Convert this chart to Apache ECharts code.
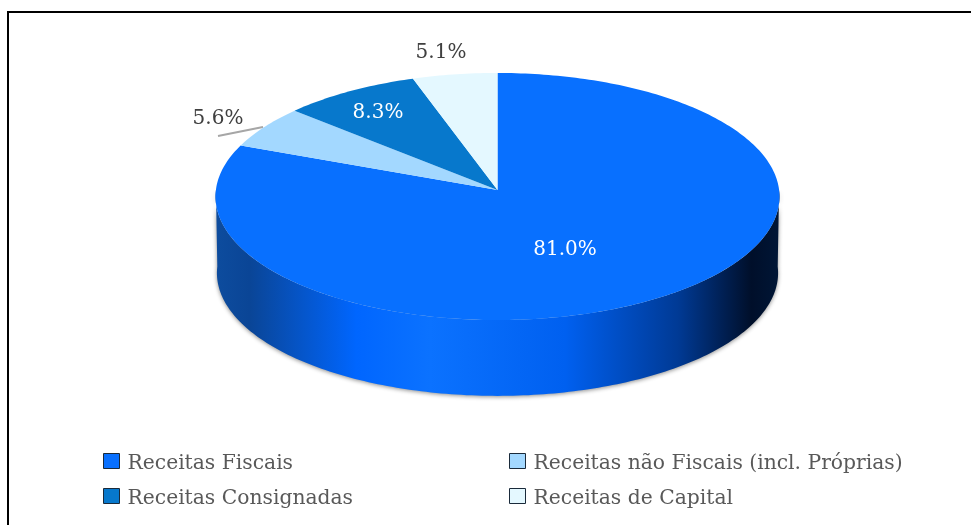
<!DOCTYPE html>
<html>
<head>
<meta charset="utf-8">
<title>Receitas</title>
<script src="https://cdn.jsdelivr.net/npm/echarts@6/dist/echarts.min.js"></script>
<style>
html, body { margin: 0; padding: 0; background: #fff; }
#main { width: 971px; height: 525px; }
</style>
</head>
<body>
<div id="main"></div>
<script>
var categories = ['Receitas Fiscais', 'Receitas não Fiscais (incl. Próprias)', 'Receitas Consignadas', 'Receitas de Capital'];
var values = [81.0, 5.6, 8.3, 5.1];
var colors = ['#0870ff', '#a3d8ff', '#0778cc', '#e4f8ff'];
var labelColors = ['#ffffff', '#404040', '#ffffff', '#404040'];
var labelAnchors = [[565, 250], [218, 119], [378, 113], [441, 53]];

var FONT = '"DejaVu Serif", serif';
// tilted disc: centre, radii, perspective factor
var CX = 497.5, CY = 190, RX = 281.6, RY = 123.2, K = 0.0526, DEPTH = 76.5;

function project(deg, lift, scale) {
	var a = deg * Math.PI / 180;
	var u = Math.sin(a), v = -Math.cos(a);
	var d = 1 - K * v;
	return [CX + RX * scale * u / d, CY + lift + RY * scale * v / d];
}
function arc(from, to, lift, scale) {
	var pts = [];
	var n = Math.max(2, Math.ceil(Math.abs(to - from)));
	for (var i = 0; i <= n; i++) {
		pts.push(project(from + (to - from) * i / n, lift, scale));
	}
	return pts;
}

var total = values.reduce(function(s, v) { return s + v; }, 0);
var starts = [];
var acc = 0;
for (var i = 0; i < values.length; i++) {
	starts.push(acc / total * 360);
	acc += values[i];
}

function renderSlice(idx) {
	return function(params, api) {
		var from = starts[idx];
		var to = from + api.value(0) / total * 360;
		var children = [];
		// the front wall only shows under the part of a slice facing the viewer
		var wa = Math.max(from, 90), wb = Math.min(to, 270);
		if (wb > wa) {
			var wall = arc(wa, wb, 0, 1).concat(arc(wb, wa, DEPTH, 0.995));
			children.push({
				type: 'polygon',
				shape: { points: wall },
				style: {
					fill: new echarts.graphic.LinearGradient(0, 0, 1, 0, [
						{ offset: 0, color: '#0d4c9e' },
						{ offset: 0.06, color: '#0a4596' },
						{ offset: 0.25, color: '#0066ff' },
						{ offset: 0.38, color: '#0b72ff' },
						{ offset: 0.62, color: '#0060f0' },
						{ offset: 0.82, color: '#003a95' },
						{ offset: 0.95, color: '#000f2a' },
						{ offset: 1, color: '#001636' }
					]),
					shadowBlur: 4,
					shadowOffsetY: 1,
					shadowColor: 'rgba(0,0,0,0.45)'
				}
			});
		}
		children.push({
			type: 'polygon',
			shape: { points: [[CX, CY]].concat(arc(from, to, 0, 1)) },
			style: { fill: colors[idx] }
		});
		children.push({
			type: 'text',
			z2: 10,
			style: {
				x: labelAnchors[idx][0],
				y: labelAnchors[idx][1],
				text: api.value(0).toFixed(1) + '%',
				fill: labelColors[idx],
				font: '20px ' + FONT,
				align: 'center',
				verticalAlign: 'middle'
			}
		});
		return { type: 'group', children: children };
	};
}

var series = categories.map(function(name, i) {
	return {
		name: name,
		type: 'custom',
		coordinateSystem: 'none',
		silent: true,
		itemStyle: { color: colors[i] },
		renderItem: renderSlice(i),
		data: [[values[i]]]
	};
});

function legendCol(left, names) {
	return {
		left: left,
		top: 448,
		orient: 'vertical',
		itemWidth: 16,
		itemHeight: 15,
		itemGap: 14.5,
		icon: 'rect',
		selectedMode: false,
		itemStyle: { borderColor: '#1a2a3a', borderWidth: 1 },
		formatter: function(name) { return '{t|' + name + '}'; },
		textStyle: {
			rich: { t: { fontFamily: FONT, fontSize: 20.3, color: '#595959', padding: [5, 0, 0, 3] } }
		},
		data: names
	};
}

var myChart = echarts.init(document.getElementById('main'));
myChart.setOption({
	backgroundColor: '#ffffff',
	animation: false,
	legend: [
		legendCol(98, [categories[0], categories[2]]),
		legendCol(504, [categories[1], categories[3]])
	],
	graphic: [
		{ type: 'polyline', shape: { points: [[8, 525], [8, 12], [971, 12]] }, style: { fill: 'none', stroke: '#000', lineWidth: 2 } },
		{ type: 'line', shape: { x1: 218, y1: 136, x2: 263, y2: 127 }, style: { stroke: '#a6a6a6', lineWidth: 2 } }
	],
	series: series
});
</script>
</body>
</html>
